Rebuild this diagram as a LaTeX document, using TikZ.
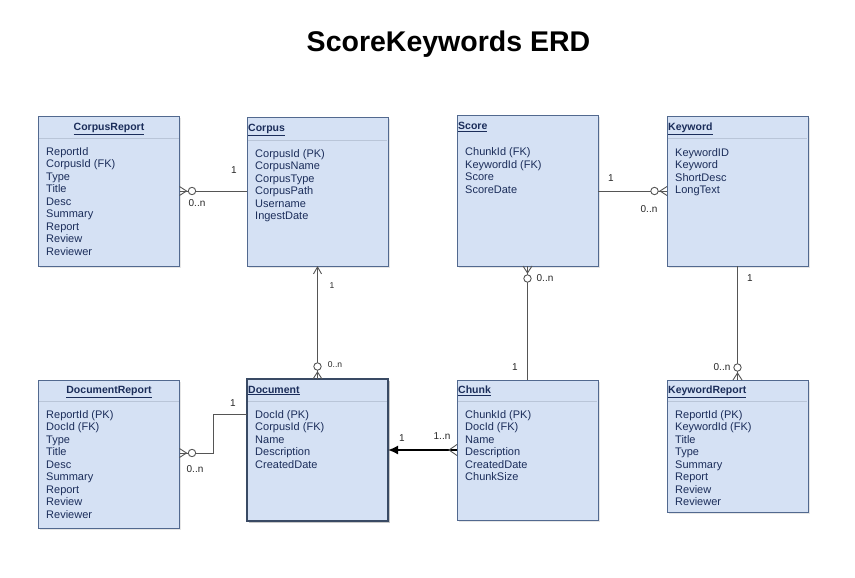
\documentclass[tikz,border=0pt]{standalone}
\usepackage{fontspec}
\setmainfont{Liberation Sans}
\usetikzlibrary{calc,shadows,arrows.meta}
\definecolor{efill}{HTML}{D5E1F4}
\definecolor{eline}{HTML}{52698F}
\definecolor{etext}{HTML}{1B2D5A}
\definecolor{esep}{HTML}{B9C5D8}
\definecolor{relgray}{HTML}{555555}

\begin{document}
\begin{tikzpicture}[x=1pt,y=-1pt,
    entity/.style={draw=eline,line width=1pt,fill=efill,anchor=north west,
      minimum width=141pt,inner sep=0pt,outer sep=0pt,
      drop shadow={shadow xshift=1.5pt,shadow yshift=-1.5pt,opacity=0.2}},
    etitle/.style={inner sep=0pt,text=etext,font=\fontsize{10.5}{12}\selectfont\bfseries},
    attrs/.style={anchor=north west,inner sep=0pt,align=left,text=etext,
      font=\fontsize{11}{12.5}\selectfont},
    sepline/.style={draw=esep,line width=0.8pt},
    rel/.style={draw=relgray,line width=0.9pt},
    card/.style={inner sep=0pt,text=black!85,font=\fontsize{10}{12}\selectfont},
    smallcard/.style={card,font=\fontsize{8.5}{10}\selectfont}]
  \useasboundingbox (0,0) rectangle (855,578);

  \node[font=\fontsize{28.5}{34}\selectfont\bfseries,anchor=base] (title) at (448.5,51.5) {ScoreKeywords ERD};

  % top row
  \node[entity,minimum height=149pt] (crep) at (38.5,117) {};
  \node[etitle,anchor=base] (crepT) at ($(crep.north)+(0,13.5)$) {\underline{CorpusReport}};
  \draw[sepline] ($(crep.north west)+(0.6,21.5)$) -- ($(crep.north east)+(-0.6,21.5)$);
  \node[attrs] (crepA) at ($(crep.north west)+(7.5,30)$)
    {ReportId\\CorpusId (FK)\\Type\\Title\\Desc\\Summary\\Report\\Review\\Reviewer};

  \node[entity,minimum height=148pt] (corp) at (247,118) {};
  \node[etitle,anchor=base west] (corpT) at ($(corp.north west)+(1,13.5)$) {\underline{Corpus}};
  \draw[sepline] ($(corp.north west)+(0.6,22)$) -- ($(corp.north east)+(-0.6,22)$);
  \node[attrs] (corpA) at ($(corp.north west)+(8,31)$)
    {CorpusId (PK)\\CorpusName\\CorpusType\\CorpusPath\\Username\\IngestDate};

  \node[entity,minimum height=150pt] (score) at (457,116) {};
  \node[etitle,anchor=base west] (scoreT) at ($(score.north west)+(1,13.5)$) {\underline{Score}};
  \node[attrs] (scoreA) at ($(score.north west)+(8,31.5)$)
    {ChunkId (FK)\\KeywordId (FK)\\Score\\ScoreDate};

  \node[entity,minimum height=149pt] (kw) at (667,117) {};
  \node[etitle,anchor=base west] (kwT) at ($(kw.north west)+(1,13.5)$) {\underline{Keyword}};
  \draw[sepline] ($(kw.north west)+(0.6,21.5)$) -- ($(kw.north east)+(-0.6,21.5)$);
  \node[attrs] (kwA) at ($(kw.north west)+(8,31)$)
    {KeywordID\\Keyword\\ShortDesc\\LongText};

  % bottom row
  \node[entity,minimum height=148pt] (drep) at (38.5,380) {};
  \node[etitle,anchor=base] (drepT) at ($(drep.north)+(0,13.5)$) {\underline{DocumentReport}};
  \draw[sepline] ($(drep.north west)+(0.6,21.5)$) -- ($(drep.north east)+(-0.6,21.5)$);
  \node[attrs] (drepA) at ($(drep.north west)+(7.5,30)$)
    {ReportId (PK)\\DocId (FK)\\Type\\Title\\Desc\\Summary\\Report\\Review\\Reviewer};

  \node[entity,minimum height=142pt,line width=1.8pt,draw=eline!70!black,
    drop shadow={shadow xshift=2pt,shadow yshift=-2pt,opacity=0.3}] (doc) at (247,379) {};
  \node[etitle,anchor=base west] (docT) at ($(doc.north west)+(1,14)$) {\underline{Document}};
  \draw[sepline] ($(doc.north west)+(1,22)$) -- ($(doc.north east)+(-1,22)$);
  \node[attrs] (docA) at ($(doc.north west)+(8,31)$)
    {DocId (PK)\\CorpusId (FK)\\Name\\Description\\CreatedDate};

  \node[entity,minimum height=140pt] (chunk) at (457,380) {};
  \node[etitle,anchor=base west] (chunkT) at ($(chunk.north west)+(1,13.5)$) {\underline{Chunk}};
  \draw[sepline] ($(chunk.north west)+(0.6,21.5)$) -- ($(chunk.north east)+(-0.6,21.5)$);
  \node[attrs] (chunkA) at ($(chunk.north west)+(8,30)$)
    {ChunkId (PK)\\DocId (FK)\\Name\\Description\\CreatedDate\\ChunkSize};

  \node[entity,minimum height=132pt] (krep) at (667,380) {};
  \node[etitle,anchor=base west] (krepT) at ($(krep.north west)+(1,13.5)$) {\underline{KeywordReport}};
  \draw[sepline] ($(krep.north west)+(0.6,21.5)$) -- ($(krep.north east)+(-0.6,21.5)$);
  \node[attrs] (krepA) at ($(krep.north west)+(8,30)$)
    {ReportId (PK)\\KeywordId (FK)\\Title\\Type\\Summary\\Report\\Review\\Reviewer};

  % CorpusReport -- Corpus
  \coordinate (cr1) at ($(crep.north east)+(0,74)$);
  \draw[rel] (cr1) -- (corp.west |- cr1);
  \draw[rel] ($(cr1)+(0,-4.5)$) -- ++(7,4.5) -- ++(-7,4.5);
  \draw[rel,fill=white] ($(cr1)+(12.5,0)$) circle (3.7);
  \node[card] (cr1a) at (234,170) {1};
  \node[card] (cr1b) at (197,203) {0..n};

  % Corpus -- Document
  \draw[rel,-{Straight Barb[length=7pt,width=8pt]}] (doc.north) -- (corp.south);
  \draw[rel] ($(doc.north)+(-4.5,0)$) -- ++(4.5,-7) -- ++(4.5,7);
  \draw[rel,fill=white] ($(doc.north)+(0,-12.5)$) circle (3.7);
  \node[smallcard] (cd1a) at (332,286) {1};
  \node[smallcard] (cd1b) at (335,365) {0..n};

  % Score -- Keyword
  \coordinate (sk1) at ($(score.north east)+(0,75)$);
  \coordinate (sk2) at (kw.west |- sk1);
  \draw[rel] (sk1) -- (sk2);
  \draw[rel] ($(sk2)+(0,-4.5)$) -- ++(-7,4.5) -- ++(7,4.5);
  \draw[rel,fill=white] ($(sk2)+(-12.5,0)$) circle (3.7);
  \node[card] (sk1a) at (611,178) {1};
  \node[card] (sk1b) at (649,209) {0..n};

  % Score -- Chunk
  \draw[rel] (score.south) -- (chunk.north);
  \draw[rel] ($(score.south)+(-4.5,0)$) -- ++(4.5,7) -- ++(4.5,-7);
  \draw[rel,fill=white] ($(score.south)+(0,12.5)$) circle (3.7);
  \node[card] (sc1a) at (545,278) {0..n};
  \node[card] (sc1b) at (515,367) {1};

  % Keyword -- KeywordReport
  \draw[rel] (kw.south) -- (krep.north);
  \draw[rel] ($(krep.north)+(-4.5,0)$) -- ++(4.5,-7) -- ++(4.5,7);
  \draw[rel,fill=white] ($(krep.north)+(0,-12.5)$) circle (3.7);
  \node[card] (kk1a) at (750,278) {1};
  \node[card] (kk1b) at (722,367) {0..n};

  % DocumentReport -- Document
  \coordinate (dd1) at ($(doc.north west)+(0,35)$);
  \coordinate (dd2) at ($(drep.north east)+(0,73)$);
  \draw[rel] (dd1) -| ($(dd1)!0.5!(dd2)$) |- (dd2);
  \draw[rel] ($(dd2)+(0,-4.5)$) -- ++(7,4.5) -- ++(-7,4.5);
  \draw[rel,fill=white] ($(dd2)+(12.5,0)$) circle (3.7);
  \node[card] (dd1a) at (233,403) {1};
  \node[card] (dd1b) at (195,469) {0..n};

  % Chunk -- Document
  \coordinate (dc1) at ($(chunk.north west)+(0,70)$);
  \draw[line width=1.6pt,-{Latex[length=10pt,width=9pt]}] (dc1) -- (doc.east |- dc1);
  \draw[rel] ($(dc1)+(0,-5.5)$) -- ++(-8,5.5) -- ++(8,5.5);
  \node[card] (dc1a) at (402,438) {1};
  \node[card] (dc1b) at (442,436) {1..n};
\end{tikzpicture}
\end{document}
